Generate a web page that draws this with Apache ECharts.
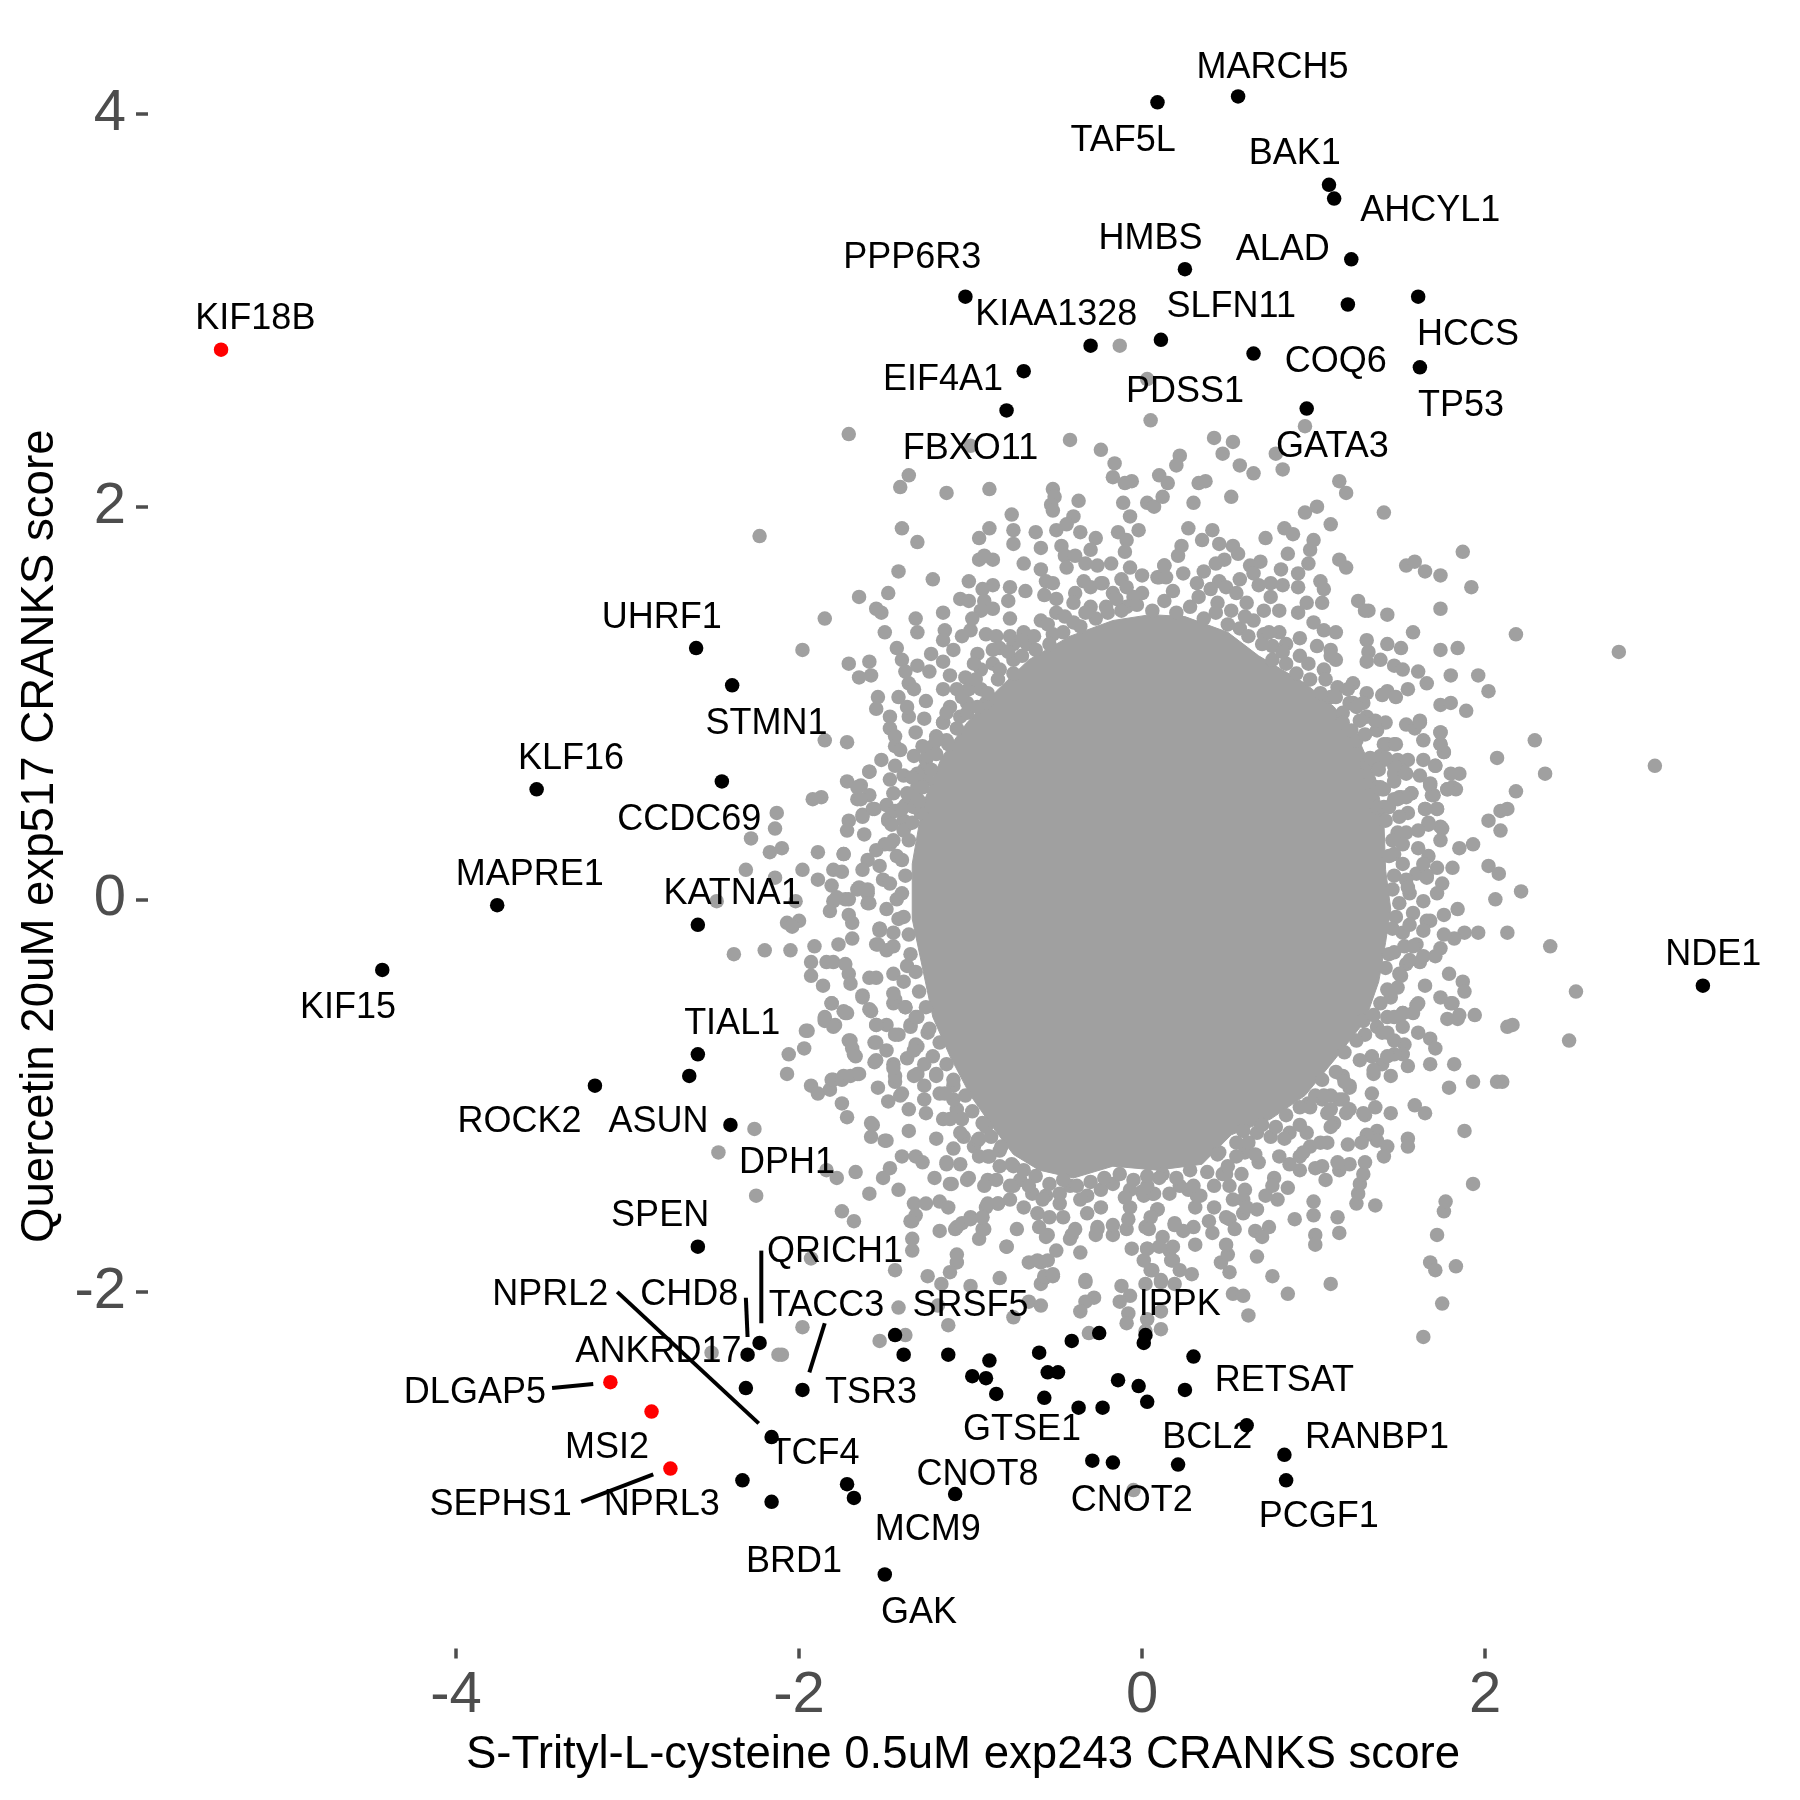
<!DOCTYPE html>
<html>
<head>
<meta charset="utf-8">
<script src="https://cdn.jsdelivr.net/npm/echarts@6/dist/echarts.min.js"></script>
<style>html,body{margin:0;padding:0;background:#fff}#chart{width:1800px;height:1800px}</style>
</head>
<body>
<div id="chart"></div>
<script>
const xTicks = [-4, -2, 0, 2];
const yTicks = [-2, 0, 2, 4];
const xTitle = 'S-Trityl-L-cysteine 0.5uM exp243 CRANKS score';
const yTitle = 'Quercetin 20uM exp517 CRANKS score';

// Thousands of grey points overlap into a solid mass in the reference, so single points
// cannot be read there: the mass is drawn as its estimated outline, in data units.
const coreOutline = [[.05,1.45],[.25,1.44],[.5,1.36],[.68,1.24],[.95,1.10],[1.12,.98],[1.27,.80],[1.36,.62],[1.41,.40],[1.42,.15],[1.45,-.05],[1.42,-.22],[1.38,-.42],[1.30,-.62],[1.12,-.82],[.95,-1.0],[.75,-1.12],[.52,-1.20],[.35,-1.35],[.09,-1.38],[-.17,-1.36],[-.40,-1.42],[-.60,-1.38],[-.75,-1.30],[-.88,-1.15],[-1.0,-1.0],[-1.12,-.80],[-1.22,-.60],[-1.28,-.35],[-1.34,-.10],[-1.34,.18],[-1.28,.48],[-1.17,.72],[-1.02,.90],[-.85,1.06],[-.66,1.22],[-.42,1.34],[-.17,1.42]];

// Grey points that can be told apart.
const greyTop = [[-1.71,2.37],[-.13,2.82],[.03,2.65],[.05,2.44],[-1.0,2.31],[-.42,2.34],[-.24,2.29],[.42,2.35],[.53,2.33],[.47,2.27],[.57,2.21],[.65,2.17],[.78,2.27],[.82,2.19],[.95,2.41],[.22,2.26],[.20,2.21],[-.16,2.22],[-.17,2.15],[-.10,2.12],[-.06,2.13],[.10,2.16],[.15,2.12],[.33,2.12],[.37,2.13],[-1.36,2.16],[-1.41,2.10],[-1.14,2.07],[-.89,2.09],[1.15,2.13],[1.19,2.07],[1.41,1.97],[1.02,2.0],[.95,1.97],[1.10,1.91],[.52,2.05],[.30,2.02],[-.37,2.03],[-.52,2.09],[-.51,2.05],[-.53,2.01],[-.52,1.98],[-.11,2.02],[.03,2.02],[.07,2.0],[.12,2.05],[-.76,1.96],[-.40,1.95],[-.07,1.95],[-1.40,1.89],[-1.31,1.82],[-1.42,1.67],[-1.22,1.63],[-1.65,1.54],[-1.48,1.56],[1.87,1.77],[1.54,1.70],[1.59,1.72],[1.65,1.67],[1.74,1.65],[1.92,1.59]];
const greyUpperLeft = [[-1.85,1.43],[-1.55,1.48],[-1.52,1.46],[-1.50,1.36],[-1.98,1.27],[-1.71,1.20],[-1.59,1.21],[-1.58,1.14],[-1.65,1.13],[-1.43,1.28],[-1.32,1.43],[-1.31,1.36],[-1.16,1.46],[-1.15,1.37],[-1.16,1.32],[-1.10,1.27],[-1.05,1.34],[-1.00,1.37],[-1.06,1.53],[-1.01,1.52],[-1.01,1.62],[-.95,1.84],[-.89,1.89],[-.95,1.73],[-.92,1.75],[-.87,1.73],[-.75,1.88],[-.75,1.81],[-.69,1.71],[-.62,1.87],[-.59,1.79],[-.59,1.68],[-.50,1.88],[-.44,1.91],[-.36,1.87],[-.27,1.84],[-.47,1.80],[-.45,1.75],[-.39,1.75],[-.44,1.69],[-.30,1.78],[-.33,1.71],[-.26,1.70],[-.34,1.62],[-.18,1.71],[-.14,1.87],[-.09,1.83],[-.02,1.88],[-.10,1.77],[-.07,1.69],[-.12,1.63],[0,1.65],[.13,1.70],[.09,1.64],[-.24,1.61],[-.39,1.56],[-.50,1.53],[-.57,1.55],[-.56,1.62],[-.52,1.61],[-.68,1.57],[-.77,1.59],[-.78,1.52],[-.87,1.60],[-.93,1.58],[-.92,1.52],[-.87,1.48],[-.77,1.43],[-.94,1.47],[-.99,1.43],[-.91,1.35],[-.77,1.34],[-.69,1.36],[-.83,1.28],[-.96,1.25],[-.87,1.20],[-1.23,1.25],[-1.16,1.21],[-1.31,1.19],[-1.24,1.16],[-1.40,1.22],[-1.38,1.16],[-1.36,1.10],[-1.33,1.07],[-1.42,1.03],[-1.54,1.03],[-1.55,.97],[-1.47,.93],[-1.47,.87],[-1.44,.83],[-1.44,.78],[-1.41,.76],[-1.33,.73],[-1.32,.85],[-1.36,.93],[-1.37,.98],[-1.26,1.01],[-1.27,.92],[-1.16,1.07],[-1.16,.90],[-1.03,1.13],[-1.12,1.14],[-1.01,1.07],[-1.02,1.0],[-.91,1.0],[-.94,1.07],[-1.85,.81],[-1.72,.80],[-1.72,.60],[-1.92,.51],[-1.87,.52],[-1.52,.71],[-1.44,.68],[-1.39,.63],[-1.59,.65],[-1.64,.58],[-1.66,.51],[-1.47,.61],[-1.45,.54],[-1.49,.48],[-1.59,.53],[-1.56,.46],[-1.63,.43],[-1.71,.40],[-1.37,.48],[-1.48,.40],[-1.31,.51],[-1.27,.66]];
const greyLeft = [[-2.23,1.85],[-2.13,.44],[-2.14,.36],[-2.28,.31],[-2.17,.24],[-2.10,.26],[-2.31,.15],[-2.14,.11],[-1.98,.15],[-1.89,.24],[-1.74,.23],[-1.89,.10],[-1.80,.15],[-1.75,.14],[-1.81,.07],[-1.80,-.01],[-1.66,.05],[-1.60,.03],[-1.59,-.02],[-1.73,0],[-1.71,-.08],[-1.69,-.12],[-1.69,-.20],[-1.82,-.06],[-2.02,-.01],[-2.48,-.01],[-2.07,-.12],[-2.0,-.11],[-2.04,-.14],[-2.38,-.28],[-2.20,-.26],[-2.05,-.26],[-1.91,-.24],[-1.77,-.23],[-1.53,-.15],[-1.55,-.23],[-1.93,-.32],[-1.84,-.32],[-1.80,-.32],[-1.73,-.33],[-1.71,-.38],[-1.93,-.39],[-1.86,-.44],[-1.70,-.43],[-1.59,-.40],[-1.55,-.40],[-1.63,-.49],[-1.81,-.53],[-1.73,-.58],[-1.58,-.57],[-1.45,-.53],[-1.38,-.55],[-1.85,-.62],[-1.79,-.64],[-1.95,-.67],[-1.97,-.76],[-2.06,-.79],[-2.07,-.89],[-1.71,-.72],[-1.68,-.79],[-1.55,-.64],[-1.49,-.64],[-1.42,-.69],[-1.35,-.64],[-1.56,-.73],[-1.49,-.77],[-1.55,-.82],[-1.31,-.75],[-1.45,-.84],[-1.44,-.93],[-1.37,-.81],[-1.31,-.89],[-1.93,-.95],[-1.89,-.99],[-1.82,-.97],[-1.81,-.92],[-1.74,-.90],[-1.66,-.89],[-1.54,-.96],[-1.48,-1.03],[-1.40,-.99],[-1.36,-1.07],[-1.75,-1.04],[-1.72,-1.11],[-1.59,.65],[-1.66,.57],[-1.64,.51],[-1.57,.46],[-1.63,.42],[-1.72,.35],[-1.62,.33],[-1.48,.41],[-1.46,.38],[-1.38,.48],[-1.31,.57],[-1.33,.49],[-1.37,.38],[-1.50,.28],[-1.55,.25],[-1.74,.23],[-1.60,.20],[-1.63,.15],[-1.78,.01],[-1.71,0],[-1.65,.06],[-1.60,-.02],[-1.60,.05],[-1.53,-.15],[-1.54,-.23],[-1.49,-.05],[-1.49,-.26],[-1.45,-.17],[-1.45,-.38],[-1.63,-.50],[-1.81,-.53],[-1.74,-.57],[-1.59,-.56],[-1.44,-.51],[-1.38,-.55],[-1.85,-.60]];
const greyBottomLeft = [[-2.26,-1.17],[-2.47,-1.29],[-2.25,-1.51],[-1.84,-1.38],[-1.78,-1.42],[-1.67,-1.39],[-1.47,-1.37],[-1.51,-1.42],[-1.59,-1.50],[-1.42,-1.48],[-1.58,-1.14],[-1.58,-1.21],[-1.50,-1.23],[-1.36,-1.18],[-1.20,-1.22],[-1.40,-1.31],[-1.32,-1.31],[-1.28,-1.34],[-1.21,-1.42],[-1.10,-1.27],[-1.14,-1.34],[-1.11,-1.45],[-1.01,-1.42],[-.90,-1.43],[-1.75,-1.59],[-1.68,-1.64],[-1.33,-1.55],[-1.26,-1.55],[-1.18,-1.54],[-1.13,-1.57],[-1.34,-1.64],[-1.18,-1.69],[-1.08,-1.67],[-1.0,-1.62],[-.93,-1.68],[-.91,-1.57],[-.84,-1.55],[-.73,-1.68],[-1.34,-1.73],[-1.34,-1.79],[-.95,-1.73],[-.79,-1.77],[-1.44,-1.89],[-1.93,-1.83],[-1.08,-1.81],[-1.08,-1.85],[-1.12,-1.90],[-1.25,-1.92],[-1.17,-1.96],[-.83,-1.93],[-.66,-1.85],[-.59,-1.85],[-.55,-1.84],[-.50,-1.79],[-.36,-1.80],[-.57,-1.93],[-.52,-1.92],[-.33,-1.94],[-.55,-1.71],[-.41,-1.71],[-.26,-1.68],[-1.98,-2.18],[-2.10,-2.32],[-1.53,-2.25],[-1.38,-2.22],[-1.42,-2.08],[-1.13,-2.17],[-1.19,-2.07],[-1.0,-1.97],[-.75,-2.13],[-.66,-2.05],[-.59,-2.07],[-.59,-1.96],[-.57,-1.92],[-.52,-1.91],[-.33,-1.95],[-.28,-2.03],[-.33,-2.05],[-.36,-2.10],[-.31,-2.21],[-.12,-1.97],[-.07,-2.02],[-.13,-2.05],[-.08,-2.11],[-.09,-2.16],[.03,-2.14],[.02,-2.20],[.11,-2.19],[.11,-2.10],[.02,-1.96],[.11,-1.94],[.06,-1.89],[.01,-1.84],[-.06,-1.78],[.18,-1.84],[.03,-1.78],[-.61,-1.84],[-.79,-1.77],[-.92,-1.68],[-1.09,-1.68],[-1.05,-1.65],[-1.0,-1.63],[-.93,-1.62],[-.90,-1.55],[-.84,-1.55],[-1.32,-1.61],[-1.35,-1.64],[-.60,-1.67],[-.56,-1.72],[-.42,-1.73],[-.39,-1.68],[-.27,-1.71],[-.17,-1.71],[-.26,-1.67],[-.17,-1.66],[-.09,-1.68],[-.75,-1.46],[-.77,-1.53],[-.69,-1.57],[-.61,-1.60],[-.54,-1.62],[-.46,-1.62],[-.64,-1.50],[-.56,-1.51],[-.48,-1.50],[-.32,-1.60],[-.24,-1.57],[-.07,-1.57],[-.08,-1.63],[0,-1.49],[.09,-1.58],[.06,-1.50],[.19,-1.65],[.12,-1.72],[.02,-1.67],[.16,-1.79],[-1.85,-.61],[-1.80,-.65],[-1.72,-.58],[-1.96,-.67],[-1.70,-.72],[-1.69,-.76],[-1.67,-.80],[-1.55,-.64],[-1.44,-.69],[-1.35,-.65],[-1.55,-.73],[-1.56,-.83],[-1.44,-.90],[-1.45,-.86],[-1.32,-.74],[-1.33,-.90],[-1.80,-.92],[-1.75,-.92],[-1.70,-.90],[-1.65,-.89],[-1.41,-1.0],[-1.57,-1.15],[-1.49,-1.23],[-1.14,-1.35],[-1.12,-1.45],[-1.02,-1.43],[-.92,-1.46],[-.85,-1.43],[-.89,-1.31],[-.98,-1.26],[-1.06,-1.35],[-1.27,-1.02],[-1.26,-1.09],[-1.16,-1.12],[-1.08,-1.07],[-1.10,-.95],[-1.20,-.89],[-1.27,-.95],[-1.04,-1.21],[-.95,-1.31],[-2.12,-2.32],[-2.51,-2.31],[-.05,-3.01]];
const greyBottomRight = [[1.64,-2.23],[1.75,-2.06],[1.68,-1.85],[1.71,-1.89],[1.83,-1.87],[1.72,-1.71],[1.76,-1.59],[1.77,-1.54],[1.93,-1.45],[1.88,-1.18],[1.79,-.96],[1.93,-.93],[2.07,-.93],[2.10,-.93],[2.13,-.65],[2.16,-.64],[1.94,-.59],[1.85,-.59],[1.78,-.61],[1.84,-.61],[1.81,-.53],[1.82,-.84],[1.68,-.84],[1.61,-.68],[1.68,-.71],[1.71,-.76],[1.55,-.85],[1.59,-1.05],[1.65,-1.09],[1.45,-1.09],[1.55,-1.22],[1.55,-1.26],[1.43,-1.26],[1.41,-1.31],[1.37,-1.18],[1.37,-1.23],[1.31,-1.20],[1.28,-1.24],[1.20,-1.25],[1.34,-.99],[1.36,-1.06],[1.30,-1.10],[1.36,-1.56],[1.25,-1.55],[1.26,-1.50],[1.27,-1.45],[1.29,-1.40],[1.30,-1.34],[1.21,-1.35],[1.15,-1.38],[1.14,-1.34],[1.07,-1.43],[1.05,-1.36],[1.01,-1.37],[.92,-1.38],[.86,-1.35],[1.0,-1.54],[1.0,-1.61],[.89,-1.63],[1.14,-1.62],[1.15,-1.70],[1.01,-1.71],[1.01,-1.76],[.85,-1.47],[.77,-1.42],[.76,-1.46],[.79,-1.53],[.72,-1.51],[.68,-1.34],[.60,-1.29],[.58,-1.40],[.60,-1.48],[.59,-1.53],[.67,-1.58],[.74,-1.67],[.66,-1.69],[.70,-1.72],[.67,-1.82],[.76,-1.92],[.85,-2.01],[1.10,-1.96],[.62,-2.12],[.53,-2.01],[.59,-2.02],[.51,-1.90],[.46,-1.85],[.50,-1.81],[.49,-1.76],[.41,-1.70],[.39,-1.64],[.31,-1.76],[.30,-1.67],[.24,-1.69],[.19,-1.66],[.18,-1.77],[.17,-1.84],[.29,-1.91],[.22,-1.89],[.11,-1.95],[.19,-1.96],[.42,-1.57],[.31,-1.57],[.51,-1.63],[.54,-1.68],[.59,-1.60],[.27,-1.48],[.34,-1.51],[.09,-1.58],[.05,-1.62],[.04,-1.68],[.01,-1.51],[.07,-1.50],[.10,-1.77],[.03,-1.78],[.05,-1.89],[.49,-1.40],[.51,-1.46],[.45,-1.29],[.80,-1.31],[.92,-1.31],[.98,-1.26],[1.08,-1.24],[1.12,-1.14],[1.21,-1.07],[1.29,-1.09],[1.05,-1.02],[.97,-1.04],[1.10,-1.07],[1.15,-1.02],[1.21,-.96],[1.17,-.90],[1.35,-.89],[1.45,-.90],[1.53,-.74],[1.52,-.79],[1.47,-.79],[1.40,-.84],[1.34,-.80],[1.52,-.58],[1.60,-.54],[1.52,-.65],[1.43,-.60],[1.43,-.68],[2.49,-.72]];
const greyRight = [[.27,1.89],[.41,1.88],[.72,1.84],[.83,1.89],[.88,1.86],[1.0,1.83],[.98,1.78],[.85,1.76],[.97,1.71],[.81,1.68],[1.15,1.73],[1.19,1.69],[.91,1.66],[1.04,1.62],[1.06,1.58],[1.05,1.51],[1.26,1.52],[1.30,1.47],[1.32,1.47],[1.43,1.45],[1.74,1.48],[1.58,1.36],[2.18,1.35],[1.31,1.32],[1.32,1.26],[1.31,1.21],[1.43,1.30],[1.51,1.28],[1.39,1.22],[1.47,1.19],[1.52,1.17],[1.74,1.27],[1.84,1.28],[1.61,1.16],[1.66,1.10],[1.80,1.14],[1.96,1.14],[2.02,1.06],[1.55,1.07],[1.43,1.06],[1.48,1.03],[1.40,1.04],[1.74,.99],[1.80,1.0],[1.89,.96],[1.54,.89],[1.62,.91],[1.59,.87],[1.74,.85],[1.64,.81],[1.74,.79],[1.76,.75],[2.29,.81],[2.07,.72],[2.35,.64],[2.18,.55],[1.64,.71],[1.71,.68],[1.80,.64],[1.85,.64],[1.78,.56],[1.83,.56],[1.68,.58],[1.70,.53],[1.55,.71],[1.54,.64],[1.43,.79],[1.47,.79],[1.42,.90],[1.34,.70],[1.41,.71],[1.57,.54],[1.51,.52],[1.47,.51],[1.65,.46],[1.72,.46],[1.55,.44],[2.02,.40],[2.09,.45],[2.13,.46],[1.74,.37],[1.67,.39],[1.23,1.10],[1.31,1.05],[1.29,1.0],[1.23,1.0],[1.31,.93],[1.13,1.36],[1.06,1.37],[1.0,1.41],[.80,1.36],[1.13,1.22],[1.10,1.27],[.96,1.51],[.91,1.46],[.80,1.47],[.71,1.47],[.75,1.54],[.82,1.60],[.91,1.59],[.75,1.61],[.68,1.60],[.53,1.80],[.56,1.76],[.45,1.81],[.48,1.73],[.43,1.71],[.69,1.72],[.63,1.70],[.35,1.83],[.23,1.80],[.21,1.75],[.36,1.67],[.45,1.62],[.13,1.70],[.10,1.64],[2.09,.35],[1.93,.28],[1.85,.26],[1.81,.16],[2.02,.17],[2.08,.13],[2.21,.04],[2.06,0],[2.13,-.17],[2.38,-.24],[2.53,-.47],[1.96,-.17],[1.88,-.17],[1.82,-.20],[1.76,-.18],[1.84,-.05],[1.75,.08],[1.72,.03],[1.64,-.01],[1.76,-.08],[1.66,-.11],[1.74,-.25],[1.71,-.29],[1.60,-.23],[1.79,-.38],[1.87,-.42],[1.88,-.47],[1.65,-.44],[1.74,-.50],[1.80,-.53],[1.61,-.53],[1.52,-.58],[1.54,-.33],[1.62,-.32],[1.44,-.28],[1.51,-.39],[1.72,.16],[1.66,.12],[1.67,.22],[1.61,.26],[1.75,.36],[1.74,.30],[1.67,.38],[1.72,.46],[1.65,.46],[1.69,.53],[1.57,.54],[1.50,.52],[1.81,.57],[1.78,.56],[1.71,.68],[1.76,.75],[1.74,.79],[1.74,.85],[1.62,.90],[1.52,.65],[1.62,.63],[1.39,.57],[1.68,.59],[2.78,1.26],[2.99,.68]];
const greyRing = [[-.30,1.59],[-.23,1.61],[-.17,1.56],[-.09,1.59],[-.05,1.54],[-.40,1.51],[-.30,1.49],[-.21,1.49],[-.09,1.49],[-.50,1.46],[-.40,1.41],[-.59,1.42],[-.63,1.34],[-.52,1.35],[-.67,1.30],[-.75,1.30],[-.85,1.34],[-.87,1.27],[-.75,1.22],[-.83,1.17],[-.94,1.17],[-.98,1.20],[-1.08,1.07],[-1.12,.98],[-1.06,.93],[-1.14,.81],[-1.22,.78],[-1.26,.71],[-1.20,.83],[-1.29,.59],[-1.33,.52],[-1.39,.40],[-1.25,.61],[-1.44,.45],[-1.29,.44],[.24,1.66],[.32,1.61],[.14,1.64],[.40,1.58],[.49,1.59],[.57,1.63],[.55,1.56],[.65,1.66],[.61,1.51],[.65,1.42],[.44,1.51],[.71,1.35],[.76,1.29],[.84,1.30],[.92,1.33],[1.02,1.29],[.92,1.24],[1.10,1.24],[1.06,1.17],[1.14,1.08],[1.10,1.03],[1.21,1.0],[1.17,.95],[1.27,.91],[1.37,.86],[1.25,.81],[1.41,.79],[1.39,.73],[1.49,.71],[1.47,.64],[1.31,.69],[1.33,.59],[1.41,.56],[1.37,.47],[1.48,.79],[1.39,.71],[1.47,.68],[1.37,.57],[1.54,.52],[1.49,.51],[1.41,.47],[1.49,.34],[1.54,.34],[1.61,.35],[1.52,.28],[1.47,.23],[1.60,.13],[1.54,.10],[1.64,.18],[1.66,.11],[1.56,.03],[1.58,-.07],[1.68,-.11],[1.64,-.16],[1.52,-.17],[1.58,-.24],[1.64,-.29],[1.56,-.31],[1.50,-.38],[1.45,-.50],[1.58,-.58],[1.29,-.62],[1.37,-.65],[1.47,-.72],[1.43,-.80],[1.35,-.87],[1.21,-.95],[1.17,-1.02],[1.10,-1.0],[1.19,-1.09],[1.08,-1.09],[1.10,-1.16],[.98,-1.06],[.96,-1.19],[1.04,-1.24],[.94,-1.29],[.86,-1.19],[.75,-1.21],[.67,-1.19],[.59,-1.18],[.55,-1.31],[.47,-1.40],[.42,-1.46],[.32,-1.51],[.53,-1.53],[.61,-1.57],[.49,-1.62],[.22,-1.46],[.12,-1.40],[.03,-1.46],[-.07,-1.48],[-.17,-1.45],[-.24,-1.48],[-.32,-1.51],[-.42,-1.46],[-.48,-1.55],[-.58,-1.53],[-.71,-1.43],[-.77,-1.46],[-.75,-1.36],[-.83,-1.28],[-.90,-1.31],[-.96,-1.23],[-.91,-1.16],[-1.06,-1.19],[-1.12,-1.12],[-1.10,-1.02],[-1.18,-.99],[-1.20,-.90],[-1.27,-.84],[-1.33,-.77],[-1.25,-.68],[-1.31,-.60],[-1.45,-.48],[-1.37,-.34],[-1.45,-.24],[-1.53,-.16],[-1.43,0],[-1.51,.10],[-1.53,.17],[-1.43,.22],[-1.47,.28],[-1.39,.35],[-1.33,.47],[-1.37,.54],[-1.31,.64],[-1.25,.73],[-1.20,.81],[-1.16,.90]];
const greyEdge = [[-.12,1.47],[-.03,1.50],[.06,1.47],[.13,1.52],[.20,1.46],[.28,1.49],[.36,1.43],[.43,1.46],[.50,1.40],[.57,1.38],[.62,1.34],[.70,1.30],[.76,1.22],[.84,1.20],[.90,1.15],[.98,1.12],[1.04,1.05],[1.13,1.03],[1.17,.90],[1.22,.86],[1.30,.84],[1.33,.72],[1.38,.66],[1.40,.56],[1.44,.47],[1.42,.40],[1.46,.30],[1.44,.22],[1.47,.12],[1.46,.05],[1.50,-.02],[1.48,-.09],[1.46,-.15],[1.47,-.27],[1.42,-.35],[1.43,-.46],[1.39,-.53],[1.35,-.59],[1.30,-.69],[1.25,-.72],[1.18,-.78],[1.13,-.88],[1.05,-.92],[1.01,-1.0],[.92,-1.06],[.84,-1.10],[.78,-1.16],[.70,-1.15],[.62,-1.24],[.55,-1.24],[.44,-1.30],[.38,-1.39],[.28,-1.38],[.20,-1.42],[.10,-1.42],[.03,-1.41],[-.05,-1.43],[-.13,-1.40],[-.22,-1.42],[-.30,-1.44],[-.38,-1.46],[-.46,-1.43],[-.54,-1.45],[-.62,-1.41],[-.69,-1.38],[-.76,-1.35],[-.82,-1.26],[-.88,-1.21],[-.93,-1.14],[-.99,-1.08],[-1.03,-1.0],[-1.10,-.92],[-1.14,-.84],[-1.18,-.73],[-1.24,-.66],[-1.26,-.55],[-1.30,-.47],[-1.32,-.37],[-1.35,-.28],[-1.36,-.18],[-1.39,-.09],[-1.40,.03],[-1.38,.12],[-1.40,.20],[-1.36,.30],[-1.34,.39],[-1.30,.50],[-1.28,.57],[-1.23,.66],[-1.20,.74],[-1.13,.79],[-1.08,.87],[-1.02,.95],[-.96,.98],[-.90,1.05],[-.84,1.12],[-.75,1.15],[-.70,1.24],[-.62,1.27],[-.54,1.30],[-.46,1.36],[-.36,1.39],[-.27,1.43],[-.20,1.46],[-.55,1.40],[-.45,1.44],[-.33,1.46],[-.15,1.53],[0,1.56],[.18,1.57],[.33,1.54],[.52,1.47],[.60,1.44],[.74,1.36],[.82,1.26],[.97,1.20],[1.07,1.12],[1.2,1.07],[1.25,.98],[1.36,.91],[1.42,.72],[1.47,.60],[1.50,.42],[1.52,.18],[1.55,.06],[1.56,-.13],[1.53,-.24],[1.49,-.45],[1.47,-.60],[1.40,-.68],[1.27,-.82],[1.18,-.93],[1.06,-1.0],[.92,-1.15],[.83,-1.22],[.66,-1.30],[.50,-1.36],[.30,-1.46],[.16,-1.50],[-.1,-1.52],[-.36,-1.53],[-.66,-1.46],[-.83,-1.36],[-.95,-1.22],[-1.05,-1.12],[-1.15,-.99],[-1.22,-.80],[-1.32,-.60],[-1.39,-.42],[-1.42,-.10],[-1.47,.08],[-1.45,.30],[-1.40,.46],[-1.34,.62],[-1.28,.78],[-1.14,.95],[-1.05,1.03],[-.97,1.12],[-.78,1.26],[-.70,1.32]];

const hitGenes = [[.56,4.09],[.09,4.06],[1.09,3.64],[1.12,3.57],[1.22,3.26],[.25,3.21],[-1.03,3.07],[1.20,3.03],[1.61,3.07],[-.30,2.82],[.11,2.85],[.65,2.78],[-.69,2.69],[1.62,2.71],[-.79,2.49],[.96,2.50],[-2.60,1.28],[-2.39,1.09],[-3.53,.56],[-2.45,.60],[-3.76,-.03],[-2.59,-.13],[-4.43,-.36],[3.27,-.44],[-2.59,-.79],[-2.64,-.90],[-3.19,-.95],[-2.40,-1.15],[-2.59,-1.77],[-2.23,-2.26],[-2.30,-2.32],[-2.31,-2.49],[-2.16,-2.74],[-2.33,-2.96],[-2.16,-3.07],[-1.98,-2.50],[-1.44,-2.22],[-1.39,-2.32],[-1.13,-2.32],[-.89,-2.35],[-.99,-2.43],[-.91,-2.44],[-.85,-2.52],[-.60,-2.31],[-.55,-2.41],[-.49,-2.41],[-.57,-2.54],[-.41,-2.25],[-.25,-2.21],[-.37,-2.59],[-.23,-2.59],[-.14,-2.45],[-.02,-2.48],[.03,-2.56],[.02,-2.22],[.01,-2.26],[.30,-2.33],[.25,-2.50],[.61,-2.68],[.83,-2.83],[.84,-2.96],[.21,-2.88],[-.29,-2.86],[-.17,-2.87],[-1.09,-3.03],[-1.72,-2.98],[-1.68,-3.05],[-1.50,-3.44]];
const redGenes = [[-5.37,2.80],[-3.10,-2.46],[-2.86,-2.61],[-2.75,-2.90]];

const geneNames = ['MARCH5','TAF5L','BAK1','AHCYL1','HMBS','ALAD','PPP6R3','KIAA1328','SLFN11','HCCS','COQ6','EIF4A1','PDSS1','TP53','GATA3','FBXO11','KIF18B','UHRF1','STMN1','KLF16','CCDC69','MAPRE1','KATNA1','NDE1','KIF15','TIAL1','ROCK2','ASUN','DPH1','SPEN','QRICH1','NPRL2','CHD8','TACC3','SRSF5','IPPK','ANKRD17','RETSAT','DLGAP5','TSR3','GTSE1','BCL2','RANBP1','MSI2','TCF4','CNOT8','SEPHS1','NPRL3','CNOT2','PCGF1','MCM9','BRD1','GAK'];
const nameAnchors = [[.76,4.235],[-.11,3.865],[.89,3.795],[1.68,3.505],[.05,3.365],[.82,3.305],[-1.34,3.265],[-.50,2.975],[.52,3.015],[1.90,2.875],[1.13,2.735],[-1.16,2.645],[.25,2.585],[1.86,2.515],[1.11,2.305],[-1.0,2.295],[-5.17,2.955],[-2.80,1.435],[-2.19,.895],[-3.33,.715],[-2.64,.405],[-3.57,.125],[-2.39,.025],[3.33,-.285],[-4.63,-.555],[-2.39,-.635],[-3.63,-1.135],[-2.82,-1.135],[-2.07,-1.345],[-2.81,-1.615],[-1.79,-1.795],[-3.45,-2.015],[-2.64,-2.015],[-1.84,-2.075],[-1.0,-2.075],[.22,-2.065],[-2.82,-2.305],[.83,-2.455],[-3.89,-2.515],[-1.58,-2.515],[-.70,-2.705],[.38,-2.745],[1.37,-2.745],[-3.12,-2.795],[-1.91,-2.825],[-.96,-2.935],[-3.74,-3.085],[-2.80,-3.085],[-.06,-3.065],[1.03,-3.145],[-1.25,-3.215],[-2.03,-3.375],[-1.30,-3.635]];
const leaderLines = [[-3.06,-2.0,-2.235,-2.67],[-2.31,-2.03,-2.30,-2.23],[-2.22,-1.79,-2.22,-2.16],[-3.44,-2.49,-3.20,-2.47],[-3.27,-3.07,-2.85,-2.93],[-1.85,-2.16,-1.94,-2.41]];

const greyPoints = [].concat(greyTop, greyUpperLeft, greyLeft, greyBottomLeft, greyBottomRight, greyRight, greyRing, greyEdge);
const GREY = '#A0A0A0';
const FONT = '"Liberation Sans", Arial, sans-serif';

const chart = echarts.init(document.getElementById('chart'), null, {renderer:'canvas'});
chart.setOption({
  animation:false,
  backgroundColor:'#fff',
  textStyle:{fontFamily:FONT},
  grid:{left:148,right:22,top:24,bottom:151.5,containLabel:false,outerBoundsMode:'none'},
  xAxis:{
    type:'value',min:-5.796,max:3.708,splitLine:{show:false},axisLine:{show:false,onZero:false},
    axisTick:{show:true,length:10,customValues:xTicks,lineStyle:{color:'#4D4D4D',width:3.5}},
    axisLabel:{show:true,customValues:xTicks,margin:18,fontSize:58,color:'#4D4D4D',fontFamily:FONT,formatter:v=>String(v)},
    name:xTitle,nameLocation:'middle',nameGap:84,
    nameTextStyle:{fontSize:45.6,color:'#000',fontFamily:FONT}
  },
  yAxis:{
    type:'value',min:-3.817,max:4.459,splitLine:{show:false},axisLine:{show:false,onZero:false},
    axisTick:{show:true,length:12,customValues:yTicks,lineStyle:{color:'#4D4D4D',width:3.5}},
    axisLabel:{show:true,customValues:yTicks,margin:22,fontSize:58,padding:[11,0,0,0],color:'#4D4D4D',fontFamily:FONT,formatter:v=>String(v)},
    name:yTitle,nameLocation:'middle',nameGap:82,nameRotate:90,
    nameTextStyle:{fontSize:45.6,color:'#000',fontFamily:FONT}
  },
  series:[
    {type:'custom',silent:true,z:1,coordinateSystem:'cartesian2d',clip:false,
     data:[0],encode:{x:[],y:[]},
     renderItem:(p,api)=>({type:'polygon',shape:{points:coreOutline.map(c=>api.coord(c))},style:{fill:GREY,stroke:GREY,lineWidth:1}})},
    {type:'scatter',z:2,silent:true,symbol:'circle',symbolSize:14.5,itemStyle:{color:GREY,opacity:1},data:greyPoints,large:false},
    {type:'scatter',z:3,silent:true,symbol:'circle',symbolSize:14.5,itemStyle:{color:'#000',opacity:1},data:hitGenes},
    {type:'scatter',z:4,silent:true,symbol:'circle',symbolSize:14.5,itemStyle:{color:'#FF0000',opacity:1},data:redGenes},
    {type:'custom',z:5,silent:true,coordinateSystem:'cartesian2d',clip:false,
     data:leaderLines,encode:{x:[0,2],y:[1,3]},
     renderItem:(p,api)=>{
       const a=api.coord([api.value(0),api.value(1)]),b=api.coord([api.value(2),api.value(3)]);
       return {type:'line',shape:{x1:a[0],y1:a[1],x2:b[0],y2:b[1]},style:{stroke:'#000',lineWidth:4,lineCap:'butt'}};
     }},
    {type:'scatter',z:6,silent:true,symbol:'circle',symbolSize:1,itemStyle:{color:'rgba(0,0,0,0)'},
     data:geneNames.map((n,i)=>({name:n,value:nameAnchors[i]})),
     label:{show:true,position:'inside',formatter:'{b}',fontSize:36,color:'#000',fontFamily:FONT,opacity:1},
     labelLayout:{hideOverlap:false}}
  ]
});
</script>
</body>
</html>
